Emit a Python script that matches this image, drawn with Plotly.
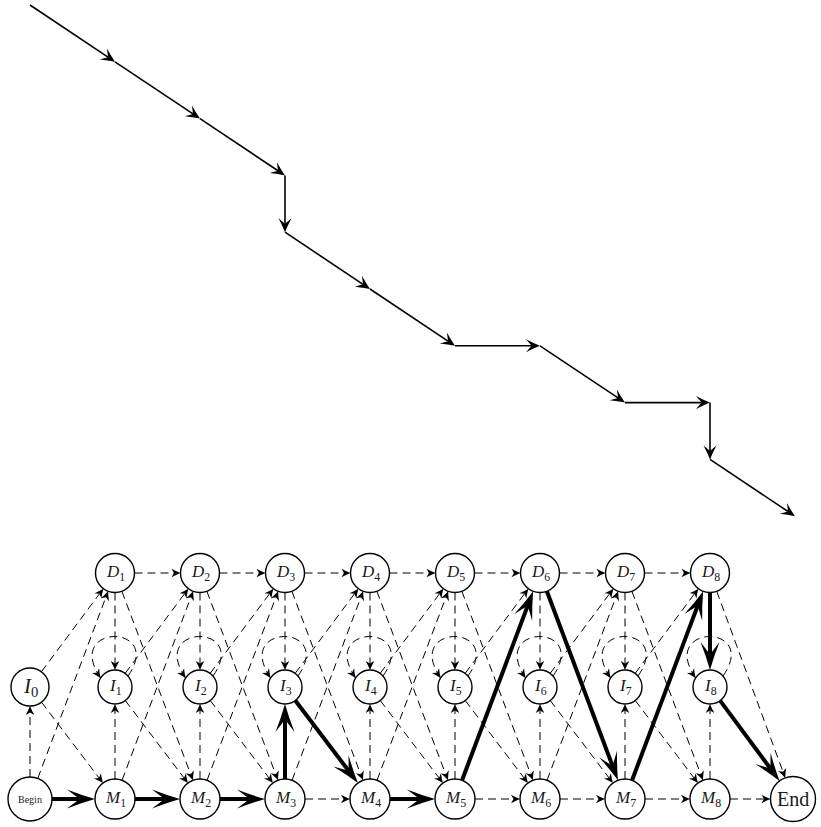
import math
import plotly.graph_objects as go

# ---------------- data ----------------
n_model = 8                                   # model positions (M1..M8)
match_labels = [f"M{k}" for k in range(1, n_model + 1)]
insert_labels = [f"I{k}" for k in range(0, n_model + 1)]
delete_labels = [f"D{k}" for k in range(1, n_model + 1)]
# state path of the alignment (Begin -> ... -> End); last "M" step enters End
state_path = ["M", "M", "M", "I", "M", "M", "D", "M", "D", "I", "M"]

# ---------------- layout constants ----------------
W, H = 821, 827
X0, DX = 30, 85
Y_D, Y_I, Y_M = 573, 687, 799
TOP_Y0, TOP_DY = 5, 56.8
END_X = 793

def col_x(k):
    return X0 + DX * k

nodes = {}
nodes["Begin"] = dict(x=col_x(0), y=Y_M, r=22, text="Begin", size=10)
nodes["End"] = dict(x=END_X, y=Y_M, r=22.5, text="End", size=20)
nodes["I0"] = dict(x=col_x(0), y=Y_I, r=19, text="<i>I</i><sub>0</sub>", size=21)
for k in range(1, n_model + 1):
    nodes[match_labels[k - 1]] = dict(x=col_x(k), y=Y_M, r=20, text=f"<i>M</i><sub>{k}</sub>", size=17)
    nodes[insert_labels[k]] = dict(x=col_x(k), y=Y_I, r=17, text=f"<i>I</i><sub>{k}</sub>", size=17)
    nodes[delete_labels[k - 1]] = dict(x=col_x(k), y=Y_D, r=19.5, text=f"<i>D</i><sub>{k}</sub>", size=17)

def mname(k):
    if k == 0:
        return "Begin"
    if k == n_model + 1:
        return "End"
    return f"M{k}"

# edges of the profile HMM
edges = []
loops = []
for k in range(0, n_model + 1):
    m, i, nm = mname(k), f"I{k}", mname(k + 1)
    edges.append((m, nm))
    edges.append((m, i))
    if k < n_model:
        edges.append((m, f"D{k+1}"))
    edges.append((i, nm))
    if k < n_model:
        edges.append((i, f"D{k+1}"))
    if k >= 1:
        loops.append(i)
        d = f"D{k}"
        edges.append((d, nm))
        edges.append((d, i))
        if k < n_model:
            edges.append((d, f"D{k+1}"))

# bold path through the graph from state_path
path_states = ["Begin"]
col = 0
for s in state_path:
    if s in ("M", "D"):
        col += 1
    if s == "M":
        path_states.append(mname(col))
    else:
        path_states.append(f"{s}{col}")
bold = set(zip(path_states[:-1], path_states[1:]))

shapes = []

def arrow_head(tx, ty, ux, uy, L, Wd, f):
    nx, ny = -uy, ux
    b1 = (tx - L * ux + Wd * nx, ty - L * uy + Wd * ny)
    b2 = (tx - L * ux - Wd * nx, ty - L * uy - Wd * ny)
    nn = (tx - f * L * ux, ty - f * L * uy)
    c1 = (tx - 0.5 * L * ux + 0.42 * Wd * nx, ty - 0.5 * L * uy + 0.42 * Wd * ny)
    c2 = (tx - 0.5 * L * ux - 0.42 * Wd * nx, ty - 0.5 * L * uy - 0.42 * Wd * ny)
    p = (f"M{tx:.2f},{ty:.2f} Q{c1[0]:.2f},{c1[1]:.2f} {b1[0]:.2f},{b1[1]:.2f} "
         f"L{nn[0]:.2f},{nn[1]:.2f} L{b2[0]:.2f},{b2[1]:.2f} "
         f"Q{c2[0]:.2f},{c2[1]:.2f} {tx:.2f},{ty:.2f} Z")
    shapes.append(dict(type="path", xref="x", yref="y", path=p,
                       fillcolor="black", line=dict(width=0)))

def edge(a, b, bold_edge):
    A, B = nodes[a], nodes[b]
    dx, dy = B["x"] - A["x"], B["y"] - A["y"]
    dist = math.hypot(dx, dy)
    ux, uy = dx / dist, dy / dist
    sx, sy = A["x"] + A["r"] * ux, A["y"] + A["r"] * uy
    tx, ty = B["x"] - B["r"] * ux, B["y"] - B["r"] * uy
    if bold_edge:
        L, Wd, f, lw, dash = 28, 9.5, 0.55, 4, "solid"
    else:
        L, Wd, f, lw, dash = 9, 4.3, 0.72, 1, "8px,5px"
    ex, ey = tx - f * L * ux, ty - f * L * uy
    shapes.append(dict(type="line", xref="x", yref="y", x0=sx, y0=sy, x1=ex, y1=ey,
                       line=dict(color="black", width=lw, dash=dash)))
    arrow_head(tx, ty, ux, uy, L, Wd, f)

for a, b in edges:
    edge(a, b, (a, b) in bold)

# self loops on insert states
for name in loops:
    N = nodes[name]
    cx, cy, r = N["x"], N["y"], N["r"]
    a0, a3 = math.radians(40), math.radians(148)
    p0 = (cx + r * math.cos(a0), cy - r * math.sin(a0))
    p3 = (cx + r * math.cos(a3), cy - r * math.sin(a3))
    p1 = (cx + 50, cy - 64)
    p2 = (cx - 52, cy - 64)
    p = (f"M{p0[0]:.2f},{p0[1]:.2f} C{p1[0]:.2f},{p1[1]:.2f} "
         f"{p2[0]:.2f},{p2[1]:.2f} {p3[0]:.2f},{p3[1]:.2f}")
    shapes.append(dict(type="path", xref="x", yref="y", path=p,
                       line=dict(color="black", width=1, dash="8px,5px")))
    ux, uy = p3[0] - p2[0], p3[1] - p2[1]
    d = math.hypot(ux, uy)
    arrow_head(p3[0], p3[1], ux / d, uy / d, 9, 4.3, 0.72)

# node circles
annotations = []
for name, N in nodes.items():
    shapes.append(dict(type="circle", xref="x", yref="y",
                       x0=N["x"] - N["r"], x1=N["x"] + N["r"],
                       y0=N["y"] - N["r"], y1=N["y"] + N["r"],
                       fillcolor="white", line=dict(color="black", width=1.4)))
    annotations.append(dict(x=N["x"], y=N["y"], xref="x", yref="y", text=N["text"],
                            showarrow=False,
                            font=dict(family="Liberation Serif", size=N["size"], color="#1a1a1a"),
                            xanchor="center", yanchor="middle"))

# top alignment path
cx_, cy_ = 0, 0
pts = [(col_x(0), TOP_Y0)]
for s in state_path:
    if s in ("M", "D"):
        cx_ += 1
    if s in ("M", "I"):
        cy_ += 1
    pts.append((col_x(cx_), TOP_Y0 + TOP_DY * cy_))
for (x0, y0), (x1, y1) in zip(pts[:-1], pts[1:]):
    dx, dy = x1 - x0, y1 - y0
    d = math.hypot(dx, dy)
    ux, uy = dx / d, dy / d
    L, f = 14, 0.6
    shapes.append(dict(type="line", xref="x", yref="y", x0=x0, y0=y0,
                       x1=x1 - f * L * ux, y1=y1 - f * L * uy,
                       line=dict(color="black", width=1.6)))
    arrow_head(x1, y1, ux, uy, L, 6.5, f)

fig = go.Figure()
fig.add_trace(go.Scatter(x=[p[0] for p in pts], y=[p[1] for p in pts], mode="markers",
                         marker=dict(size=1, opacity=0), hoverinfo="skip", showlegend=False))
fig.update_layout(
    width=W, height=H, margin=dict(l=0, r=0, t=0, b=0),
    paper_bgcolor="white", plot_bgcolor="white",
    xaxis=dict(range=[0, W], visible=False, fixedrange=True),
    yaxis=dict(range=[H, 0], visible=False, fixedrange=True),
    shapes=shapes, annotations=annotations, showlegend=False,
)
fig.write_html("out.html", post_script="document.body.style.margin='0';",
               config={"displayModeBar": False})
